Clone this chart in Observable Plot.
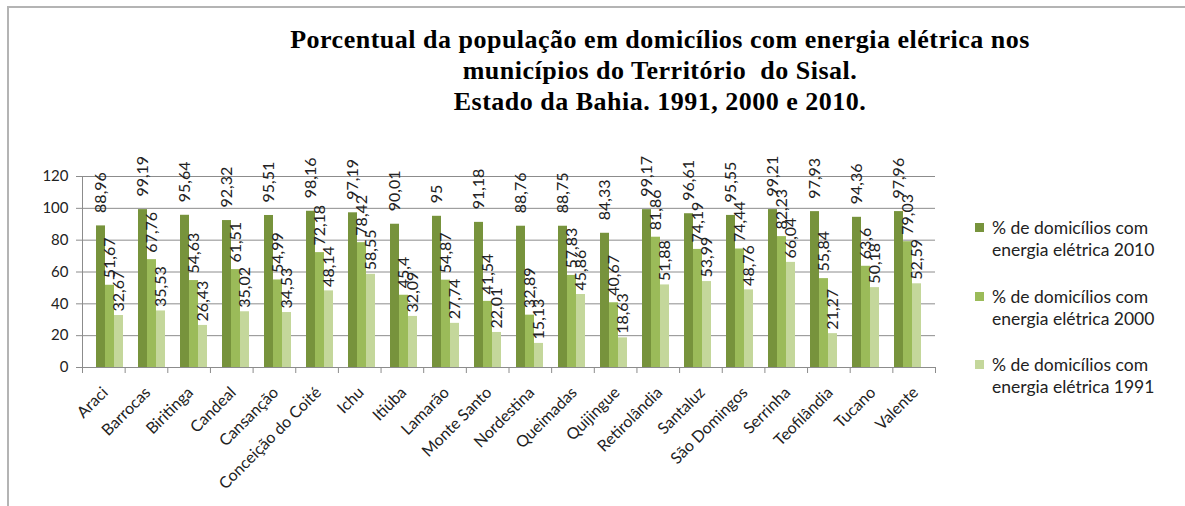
<!DOCTYPE html>
<html><head><meta charset="utf-8">
<script src="https://cdn.jsdelivr.net/npm/d3@7"></script>
<script src="https://cdn.jsdelivr.net/npm/@observablehq/plot@0.6"></script>
<style>
body{margin:0;background:#fff;}
#wrap{position:relative;width:1185px;height:506px;overflow:hidden;font-family:Lato,sans-serif;background:#fff;}
#frame{position:absolute;left:7px;top:6px;width:1200px;height:520px;border-top:2px solid #b4b4b4;border-left:2px solid #b4b4b4;}
#title{position:absolute;left:260px;width:800px;top:24px;text-align:center;font-family:"Liberation Serif","Times New Roman",Times,serif;font-weight:bold;font-size:26px;line-height:31px;letter-spacing:0.5px;color:#000;}
.layer{position:absolute;left:0;top:0;}
.li{position:absolute;left:975px;font-size:17.5px;line-height:22px;color:#222;}
.li .sw{position:absolute;left:0;top:6px;width:9px;height:9px;}
.li .tx{margin-left:17px;white-space:nowrap;}
</style></head>
<body>
<div id="wrap">
<div id="frame"></div>
<div id="title">Porcentual da população em domicílios com energia elétrica nos<br>municípios do Território&nbsp; do Sisal.<br>Estado da Bahia. 1991, 2000 e 2010.</div>
<div id="base" class="layer"></div>
<div id="bars" class="layer"></div>
<div id="legend"></div>
</div>
<script>
const municipios = ["Araci","Barrocas","Biritinga","Candeal","Cansanção","Conceição do Coité","Ichu","Itiúba","Lamarão","Monte Santo","Nordestina","Queimadas","Quijingue","Retirolândia","Santaluz","São Domingos","Serrinha","Teofilândia","Tucano","Valente"];
const v2010 = [88.96,99.19,95.64,92.32,95.51,98.16,97.19,90.01,95,91.18,88.76,88.75,84.33,99.17,96.61,95.55,99.21,97.93,94.36,97.96];
const v2000 = [51.67,67.76,54.63,61.51,54.99,72.18,78.42,45.4,54.87,41.54,32.89,57.83,40.67,81.86,74.19,74.44,82.23,55.84,63.6,79.03];
const v1991 = [32.67,35.53,26.43,35.02,34.53,48.14,58.55,32.09,27.74,22.01,15.13,45.86,18.63,51.88,53.99,48.76,66.04,21.27,50.18,52.59];
const series = ["2010","2000","1991"];
const seriesLabels = ["% de domicílios com energia elétrica 2010","% de domicílios com energia elétrica 2000","% de domicílios com energia elétrica 1991"];
const colors = ["#77933C","#9BBB59","#C4D79B"];
const yTicks = [0,20,40,60,80,100,120];

const values = {"2010": v2010, "2000": v2000, "1991": v1991};
const data = municipios.flatMap((m,i) => series.map(s => ({m, s, v: values[s][i]})));
const fmt = v => String(v).replace(".", ",");

const W = 1185, H = 506, ML = 82, MR = 250, MT = 176, MB = 139;
const font = "Lato, sans-serif";

// Base layer: grid, axes, category labels
const idx = municipios.map((m,i) => ({m, i}));
const base = Plot.plot({
  width: W, height: H, marginLeft: ML, marginRight: MR, marginTop: MT, marginBottom: MB,
  style: {fontFamily: font, background: "transparent", overflow: "visible"},
  x: {domain: [0, municipios.length]},
  y: {domain: [0, 120]},
  marks: [
    Plot.gridY(yTicks, {stroke: "#8c8c8c", strokeOpacity: 1}),
    Plot.axisY(yTicks, {tickSize: 6, tickPadding: 8, fontSize: 15, stroke: "#8c8c8c", fill: "#222", label: null}),
    Plot.axisX(d3.range(0, municipios.length + 1), {tickSize: 6, tickFormat: () => "", stroke: "#8c8c8c", label: null}),
    Plot.ruleY([0], {stroke: "#8c8c8c"}),
    Plot.ruleX([0], {y1: 0, y2: 120, stroke: "#8c8c8c"}),
    Plot.text(idx, {x: d => d.i + 0.5, y: 0, text: "m", rotate: -45, textAnchor: "end", lineAnchor: "top", dx: -3, dy: 18, fontSize: 16, fill: "#222"})
  ]
});
document.getElementById("base").appendChild(base);

// Bars layer (faceted by municipality)
const labelMark = (s, dy) => Plot.text(data.filter(d => d.s === s), {
  fx: "m", x: "s", y: "v", text: d => fmt(d.v), rotate: -90, textAnchor: "start", dy, fontSize: 16, fill: "#222"
});
const bars = Plot.plot({
  width: W, height: H, marginLeft: ML, marginRight: MR, marginTop: MT, marginBottom: MB,
  style: {fontFamily: font, background: "transparent", overflow: "visible"},
  fx: {domain: municipios, paddingInner: 0.32, paddingOuter: 0.16, axis: null, label: null},
  x: {domain: series, padding: 0, axis: null},
  y: {domain: [0, 120], axis: null},
  color: {domain: series, range: colors},
  marks: [
    Plot.barY(data, {fx: "m", x: "s", y: "v", fill: "s"}),
    labelMark("2010", -13),
    labelMark("2000", -7),
    labelMark("1991", -4)
  ]
});
document.getElementById("bars").appendChild(bars);

// Legend
const leg = document.getElementById("legend");
const tops = [217, 286, 354];
seriesLabels.forEach((t, k) => {
  const el = document.createElement("div");
  el.className = "li";
  el.style.top = tops[k] + "px";
  const parts = t.split(" energia");
  el.innerHTML = `<span class="sw" style="background:${colors[k]}"></span><div class="tx">${parts[0]}<br>energia${parts[1]}</div>`;
  leg.appendChild(el);
});
</script>
</body></html>
